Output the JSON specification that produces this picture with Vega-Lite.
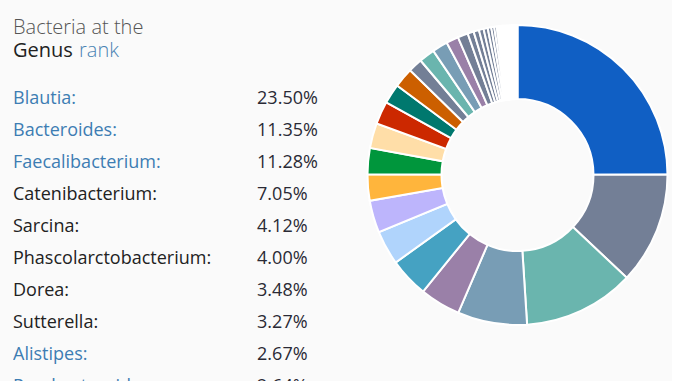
{
  "$schema": "https://vega.github.io/schema/vega-lite/v6.json",
  "background": "#fafafa",
  "padding": {"left": 13, "top": 0, "right": 0, "bottom": 0},
  "bounds": "flush",
  "spacing": 24.5,
  "config": {"view": {"stroke": null}, "font": "Open Sans"},
  "datasets": {
    "genera": [
      {"rank": 1, "genus": "Blautia", "share": 0.2350},
      {"rank": 2, "genus": "Bacteroides", "share": 0.1135},
      {"rank": 3, "genus": "Faecalibacterium", "share": 0.1128},
      {"rank": 4, "genus": "Catenibacterium", "share": 0.0705},
      {"rank": 5, "genus": "Sarcina", "share": 0.0412},
      {"rank": 6, "genus": "Phascolarctobacterium", "share": 0.0400},
      {"rank": 7, "genus": "Dorea", "share": 0.0348},
      {"rank": 8, "genus": "Sutterella", "share": 0.0327},
      {"rank": 9, "genus": "Alistipes", "share": 0.0267},
      {"rank": 10, "genus": "Parabacteroides", "share": 0.0264},
      {"rank": 11, "genus": "Ruminococcus", "share": 0.0253},
      {"rank": 12, "genus": "Roseburia", "share": 0.0232},
      {"rank": 13, "genus": "Coprococcus", "share": 0.0200},
      {"rank": 14, "genus": "Prevotella", "share": 0.0200},
      {"rank": 15, "genus": "Lachnospira", "share": 0.0144},
      {"rank": 16, "genus": "Oscillospira", "share": 0.0160},
      {"rank": 17, "genus": "Dialister", "share": 0.0157},
      {"rank": 18, "genus": "Collinsella", "share": 0.0125},
      {"rank": 19, "genus": "Streptococcus", "share": 0.0104},
      {"rank": 20, "genus": "Eubacterium", "share": 0.0062},
      {"rank": 21, "genus": "Megamonas", "share": 0.0055},
      {"rank": 22, "genus": "Bifidobacterium", "share": 0.0048},
      {"rank": 23, "genus": "Akkermansia", "share": 0.0042},
      {"rank": 24, "genus": "Clostridium", "share": 0.0036},
      {"rank": 25, "genus": "Anaerostipes", "share": 0.0030},
      {"rank": 26, "genus": "Butyricimonas", "share": 0.0025},
      {"rank": 27, "genus": "Odoribacter", "share": 0.0020},
      {"rank": 28, "genus": "Holdemania", "share": 0.0015},
      {"rank": 29, "genus": "Lactobacillus", "share": 0.0010},
      {"rank": 30, "genus": "Veillonella", "share": 0.0007},
      {"rank": 31, "genus": "Other", "share": 0.0157}
    ]
  },
  "hconcat": [
    {
      "width": 330,
      "height": 381,
      "layer": [
        {
          "data": {"values": [
            {"part": "a", "text": "Bacteria at the"},
            {"part": "b", "text": "Genus"},
            {"part": "c", "text": "rank"}
          ]},
          "encoding": {
            "y": {"datum": 1, "type": "quantitative", "scale": {"domain": [-2.234375, 9.671875], "nice": false, "zero": false, "reverse": true}, "axis": null},
            "x": {"datum": "name", "type": "nominal", "scale": {"type": "point", "domain": ["name", "value"], "padding": 0.176, "align": 0}, "axis": null},
            "text": {"field": "text"}
          },
          "layer": [
            {"transform": [{"filter": "datum.part == 'a'"}],
             "mark": {"type": "text", "align": "left", "baseline": "alphabetic", "fontSize": 20, "fontWeight": 300, "color": "#555555", "dy": -70}},
            {"transform": [{"filter": "datum.part == 'b'"}],
             "mark": {"type": "text", "align": "left", "baseline": "alphabetic", "fontSize": 20, "fontWeight": 400, "color": "#222222", "dy": -47}},
            {"transform": [{"filter": "datum.part == 'c'"}],
             "mark": {"type": "text", "align": "left", "baseline": "alphabetic", "fontSize": 20, "fontWeight": 300, "color": "#4a84b4", "dx": 66, "dy": -47}}
          ]
        },
        {
          "data": {"name": "genera"},
          "transform": [
            {"filter": "datum.rank <= 10"},
            {"calculate": "datum.genus + ':'", "as": "label"}
          ],
          "encoding": {
            "y": {"field": "rank", "type": "quantitative", "axis": null}
          },
          "layer": [
            {
              "mark": {"type": "text", "align": "left", "baseline": "alphabetic", "fontSize": 18, "clip": true},
              "encoding": {
                "x": {"datum": "name", "type": "nominal", "axis": null},
                "text": {"field": "label"},
                "color": {"condition": {"test": "indexof(['Blautia','Bacteroides','Faecalibacterium','Alistipes','Parabacteroides'], datum.genus) >= 0", "value": "#3d7db3"}, "value": "#222222"}
              }
            },
            {
              "mark": {"type": "text", "align": "left", "baseline": "alphabetic", "fontSize": 18, "color": "#2a2a35", "clip": true},
              "encoding": {
                "x": {"datum": "value", "type": "nominal", "axis": null},
                "text": {"field": "share", "type": "quantitative", "format": ".2%"}
              }
            }
          ]
        }
      ]
    },
    {
      "width": 300,
      "height": 350,
      "data": {"name": "genera"},
      "mark": {"type": "arc", "outerRadius": 150, "innerRadius": 76, "stroke": "#ffffff", "strokeWidth": 2},
      "encoding": {
        "theta": {"field": "share", "type": "quantitative", "stack": true},
        "order": {"field": "rank", "type": "quantitative"},
        "color": {
          "field": "genus", "type": "nominal", "legend": null,
          "scale": {
            "domain": ["Blautia","Bacteroides","Faecalibacterium","Catenibacterium","Sarcina","Phascolarctobacterium","Dorea","Sutterella","Alistipes","Parabacteroides","Ruminococcus","Roseburia","Coprococcus","Prevotella","Lachnospira","Oscillospira","Dialister","Collinsella","Streptococcus","Eubacterium","Megamonas","Bifidobacterium","Akkermansia","Clostridium","Anaerostipes","Butyricimonas","Odoribacter","Holdemania","Lactobacillus","Veillonella","Other"],
            "range": ["#105fc4","#737f96","#6ab5ae","#789db5","#9a80a8","#45a2c2","#b0d4fc","#bdb5fc","#ffb53c","#00963c","#ffdea8","#cc2800","#00786e","#cc5f00","#737f96","#6ab5ae","#789db5","#9a80a8","#737f96","#737f96","#737f96","#737f96","#737f96","#737f96","#737f96","#737f96","#737f96","#737f96","#737f96","#737f96","#ffffff"]
          }
        }
      }
    }
  ]
}
